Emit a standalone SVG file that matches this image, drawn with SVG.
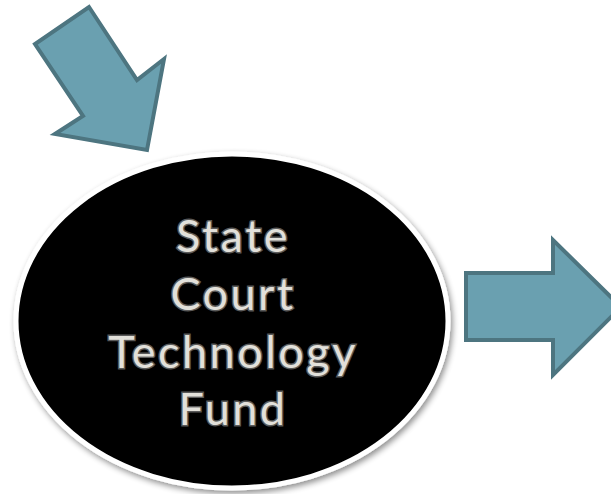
<svg xmlns="http://www.w3.org/2000/svg" width="611" height="494" viewBox="0 0 611 494">
<defs>
<style>
.arrow{fill:#6aa0b0;stroke:#4d7580;stroke-width:4;stroke-linejoin:miter}
.lbl{font-family:"Lato","Open Sans",sans-serif;font-size:45px;font-weight:400;fill:#e2e0da;stroke:#5a5a5a;stroke-width:3;paint-order:stroke;text-anchor:middle;letter-spacing:2.5px}
</style>
<filter id="sh" x="-10%" y="-10%" width="120%" height="120%">
<feGaussianBlur in="SourceAlpha" stdDeviation="3"/>
<feOffset dx="2" dy="3" result="b"/>
<feComponentTransfer><feFuncA type="linear" slope="0.45"/></feComponentTransfer>
<feMerge><feMergeNode/><feMergeNode in="SourceGraphic"/></feMerge>
</filter>
</defs>
<rect width="611" height="494" fill="#ffffff"/>
<g id="connectors">
<polygon id="arrow-in" class="arrow" points="89,7 137,80 164,59 147,150 55,134 83,116 35,44"/>
<polygon id="arrow-out" class="arrow" points="466,273 553,273 553,240 621,307 553,375 553,340 466,340"/>
</g>
<g id="fund">
<ellipse cx="232" cy="321" rx="216" ry="167" fill="#000" stroke="#fff" stroke-width="5" filter="url(#sh)"/>
<text class="lbl" x="233" y="252">State</text>
<text class="lbl" x="233" y="310">Court</text>
<text class="lbl" x="233" y="368">Technology</text>
<text class="lbl" x="233" y="425">Fund</text>
</g>
</svg>
